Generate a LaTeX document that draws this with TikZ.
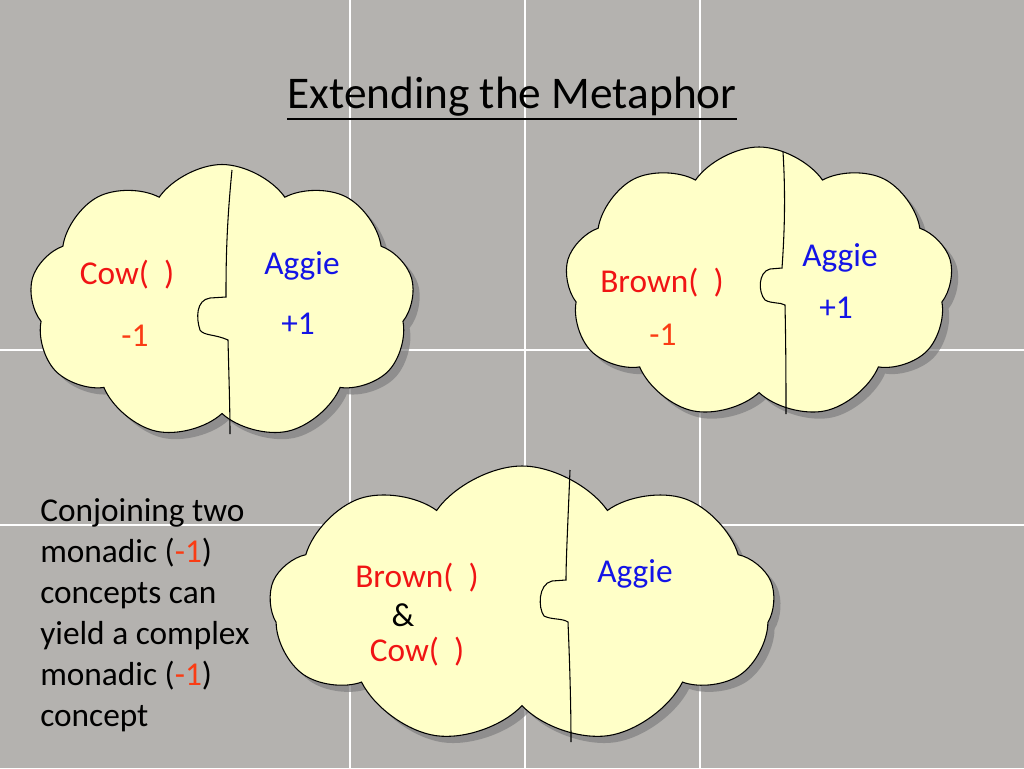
\documentclass[tikz,border=0pt]{standalone}
\usepackage{fontspec}
\setmainfont{Carlito}
\usetikzlibrary{shapes.symbols,shadows}
\definecolor{bg}{RGB}{180,178,175}
\definecolor{cloudfill}{RGB}{255,255,200}
\definecolor{redt}{RGB}{240,20,20}
\definecolor{oranget}{RGB}{250,60,20}
\definecolor{bluet}{RGB}{20,20,230}
\tikzset{
  bubble/.style={cloud, cloud puffs=9, cloud puff arc=110, cloud ignores aspect, draw=black, line width=0.8pt, fill=cloudfill, drop shadow={opacity=0.7, shadow xshift=5pt, shadow yshift=-5pt}, inner sep=0pt},
  lbl/.style={font=\fontsize{25}{30}\selectfont, inner sep=0pt},
  divide/.style={draw=black, line width=0.8pt},
}
\begin{document}
\begin{tikzpicture}[x=0.75pt,y=-0.75pt]
\fill[bg] (0,0) rectangle (1024,768);
\useasboundingbox (0,0) rectangle (1024,768);
\foreach \x in {350,525,700} \draw[white, line width=0.8pt] (\x,0) -- (\x,768);
\foreach \y in {350,525} \draw[white, line width=0.8pt] (0,\y) -- (1024,\y);
\node[font=\fontsize{34}{40}\selectfont, inner sep=0pt] (title) at (512,97) {Extending the Metaphor};
\draw[line width=1pt] (287,119) -- (737,119);
% cloud 1
\node[bubble, minimum width=385*0.75pt, minimum height=275*0.75pt] (c1) at (222,302) {};
\draw[divide] (232,170) .. controls (226,230) and (226,270) .. (226,297) -- (210,298) .. controls (196,300) and (196,318) .. (200,330) .. controls (204,336) and (215,334) .. (228,340) .. controls (229,380) and (230,410) .. (230,434);
\node[lbl, text=redt] (c1a) at (127,275) {Cow(\ \ )};
\node[lbl, text=oranget] (c1b) at (135,336) {-1};
\node[lbl, text=bluet] (c1c) at (302,266) {Aggie};
\node[lbl, text=bluet] (c1d) at (298,324) {+1};
% cloud 2
\node[bubble, minimum width=388*0.75pt, minimum height=272*0.75pt] (c2) at (759,283) {};
\draw[divide] (783,152) .. controls (786,200) and (784,240) .. (782,268) -- (770,269) .. controls (758,272) and (758,292) .. (765,300) .. controls (772,304) and (780,302) .. (785,305) .. controls (786,350) and (786,390) .. (786,414);
\node[lbl, text=redt] (c2a) at (662,283) {Brown(\ \ )};
\node[lbl, text=oranget] (c2b) at (663,335) {-1};
\node[lbl, text=bluet] (c2c) at (840,258) {Aggie};
\node[lbl, text=bluet] (c2d) at (836,308) {+1};
% cloud 3
\node[bubble, minimum width=505*0.75pt, minimum height=278*0.75pt] (c3) at (522,605) {};
\draw[divide] (570,470) .. controls (568,520) and (566,560) .. (566,580) -- (552,581) .. controls (538,584) and (538,608) .. (544,616) .. controls (552,620) and (562,618) .. (568,622) .. controls (570,670) and (571,710) .. (571,742);
\node[lbl, text=redt] (c3a) at (417,578) {Brown(\ \ )};
\node[lbl] (c3b) at (403,615) {\&};
\node[lbl, text=redt] (c3c) at (417,652) {Cow(\ \ )};
\node[lbl, text=bluet] (c3d) at (635,574) {Aggie};
% side text
\node[lbl, anchor=north west, align=left, font=\fontsize{25}{30.75}\selectfont] (side) at (40,498) {Conjoining two\\monadic (\textcolor{oranget}{-1})\\concepts can\\yield a complex\\monadic (\textcolor{oranget}{-1})\\concept};
\end{tikzpicture}
\end{document}
